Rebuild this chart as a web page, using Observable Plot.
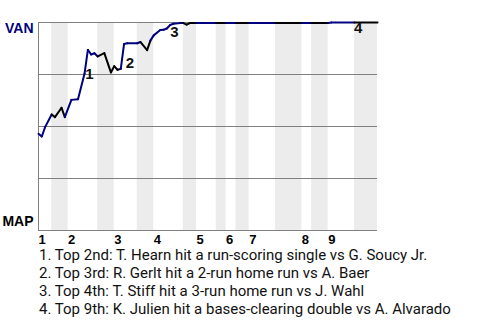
<!DOCTYPE html>
<html><head><meta charset="utf-8">
<script src="https://cdn.jsdelivr.net/npm/d3@7"></script>
<script src="https://cdn.jsdelivr.net/npm/@observablehq/plot@0.6"></script>
<style>
body{margin:0;background:#fff;}
#chart svg{display:block;overflow:visible;}
#notes{font-family:Roboto,"Noto Sans",sans-serif;font-size:15px;line-height:18px;color:#111;margin-left:39px;margin-top:-1px;white-space:nowrap;}
</style></head><body>
<div id="chart"></div>
<div id="notes"></div>
<script>
// plate appearances in each half-inning (top 1st, bottom 1st, top 2nd, ...)
const halfPA = [4,5,9,5,7,5,9,4,6,3,3,4,8,8,3,5,8,7];
const innings = ["1","2","3","4","5","6","7","8","9"];
const teams = ["VAN","MAP"];

// win-probability line for VAN (plate-appearance number, probability, batting team)
const pa = [0,1,2,4,5,7,8,10,12,14,15,16,17,18,20,22,23,24,25,26,27,30,31,33,34,35,37,38,39,40,41,43,44,45,46,48,54,57,60,64,72,80,83,88,89,96,103];
const wp = [0.465,0.452,0.497,0.558,0.545,0.590,0.545,0.628,0.631,0.755,0.868,0.846,0.852,0.837,0.853,0.760,0.790,0.773,0.777,0.897,0.900,0.900,0.906,0.867,0.913,0.938,0.964,0.965,0.971,0.988,0.994,0.997,0.997,0.990,0.997,0.997,0.997,0.997,0.997,0.997,0.997,0.997,0.997,0.997,1,1,1];
const batting = ["VAN","VAN","VAN","VAN","MAP","MAP","MAP","VAN","VAN","VAN","VAN","VAN","VAN","VAN","MAP","MAP","MAP","MAP","MAP","VAN","VAN","VAN","VAN","MAP","MAP","VAN","VAN","VAN","VAN","VAN","VAN","VAN","VAN","MAP","MAP","MAP","VAN","MAP","VAN","MAP","VAN","MAP","VAN","MAP","VAN","VAN","MAP"];

// key events
const eventNum = ["1","2","3","4"];
const eventPA = [15.5,27.8,41.3,97.1];
const eventWP = [0.75,0.805,0.952,0.971];
const eventText = [
  "Top 2nd: T. Hearn hit a run-scoring single vs G. Soucy Jr.",
  "Top 3rd: R. Gerlt hit a 2-run home run vs A. Baer",
  "Top 4th: T. Stiff hit a 3-run home run vs J. Wahl",
  "Top 9th: K. Julien hit a bases-clearing double vs A. Alvarado"
];

// derived tables
const halves = [];
let acc = 0;
halfPA.forEach((n, i) => { halves.push({start: acc, end: acc + n, top: i % 2 === 0, inning: innings[Math.floor(i / 2)]}); acc += n; });
const total = acc;
const bands = halves.filter(h => !h.top);
const inningStarts = halves.filter(h => h.top);
const segs = pa.slice(1).map((p, i) => ({x1: pa[i], y1: wp[i], x2: p, y2: wp[i + 1], team: batting[i + 1]}));
const events = eventNum.map((n, i) => ({n, x: eventPA[i], y: eventWP[i]}));

const chart = Plot.plot({
  width: 480, height: 247,
  marginTop: 22, marginBottom: 17, marginLeft: 38, marginRight: 103,
  x: {domain: [0, total], axis: null},
  y: {domain: [0, 1], axis: null},
  color: {domain: teams, range: ["#000080", "#000000"]},
  style: {fontFamily: "'Liberation Sans', Arial, sans-serif", background: "#fff"},
  marks: [
    Plot.rect(bands, {x1: "start", x2: "end", fill: "#ececec"}),
    Plot.ruleY([0, 0.25, 0.5, 0.75, 1], {stroke: "#808080", strokeWidth: 1}),
    Plot.ruleX([0], {stroke: "#808080", strokeWidth: 1}),
    Plot.link(segs, {x1: "x1", y1: "y1", x2: "x2", y2: "y2", stroke: "team", strokeWidth: 2, strokeLinecap: "round"}),
    Plot.text(events, {x: "x", y: "y", text: "n", fontSize: 15, fontWeight: "bold", fill: "#111"}),
    Plot.text(inningStarts, {x: "start", text: "inning", frameAnchor: "bottom", lineAnchor: "top", textAnchor: "start", dy: 4, fontSize: 13, fontWeight: "bold", fill: "#000"}),
    Plot.text([teams[0]], {text: d => d, frameAnchor: "top-left", textAnchor: "end", lineAnchor: "middle", dx: -5, dy: 6, fontSize: 14, fontWeight: "bold", fill: "#000080"}),
    Plot.text([teams[1]], {text: d => d, frameAnchor: "bottom-left", textAnchor: "end", lineAnchor: "middle", dx: -5, dy: -9, fontSize: 14, fontWeight: "bold", fill: "#000"})
  ]
});
document.getElementById("chart").appendChild(chart);
const notes = document.getElementById("notes");
eventText.forEach((t, i) => {
  const d = document.createElement("div");
  d.textContent = eventNum[i] + ". " + t;
  notes.appendChild(d);
});
</script>
</body></html>
